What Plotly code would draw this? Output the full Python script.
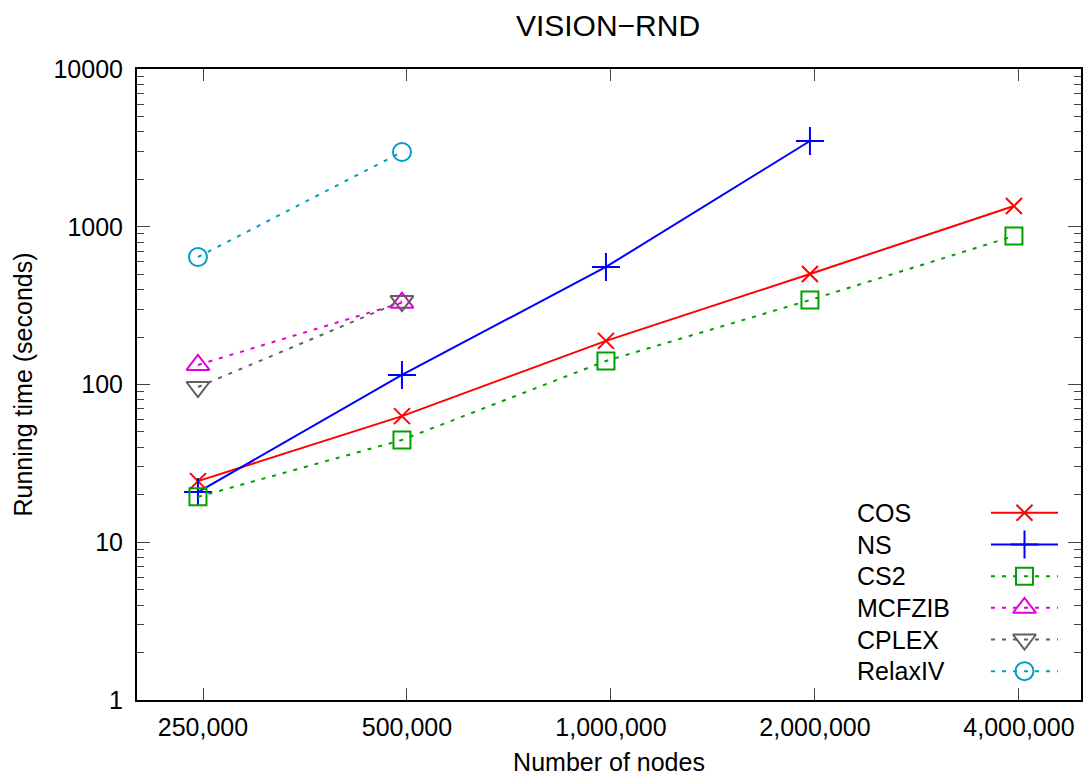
import plotly.graph_objects as go

# Data
nodes = [245760, 491520, 983040, 1966080, 3932160]
tick_vals = [250000, 500000, 1000000, 2000000, 4000000]
tick_text = ["250,000", "500,000", "1,000,000", "2,000,000", "4,000,000"]
y_tick_vals = [1, 10, 100, 1000, 10000]
y_tick_text = ["1", "10", "100", "1000", "10000"]
y_minor_vals = [m * 10 ** e for e in range(4) for m in range(2, 10)]

cos = [24.4, 63, 189, 502, 1353]
ns = [20.8, 115, 556, 3496]
cs2 = [19.4, 44.5, 141, 343, 874]
mcfzib = [133, 330]
cplex = [96.4, 338]
relaxiv = [643, 2978]

series = [
    ("COS", cos, "#ff0000", "solid", "x-thin-open", 16),
    ("NS", ns, "#0000ff", "solid", "cross-thin-open", 20),
    ("CS2", cs2, "#00a000", "4px,7px", "square-open", 17),
    ("MCFZIB", mcfzib, "#e000e0", "4px,7px", "triangle-up-open", 20),
    ("CPLEX", cplex, "#606060", "4px,7px", "triangle-down-open", 20),
    ("RelaxIV", relaxiv, "#00a0c0", "4px,7px", "circle-open", 18),
]

FONT = "Liberation Sans, Arial, Helvetica, sans-serif"
L, R, T, B = 137, 1081, 69, 700
W, H = 1083, 776

fig = go.Figure()
for name, vals, color, dash, sym, size in series:
    fig.add_trace(go.Scatter(
        x=nodes[:len(vals)], y=vals, name=name, mode="lines+markers",
        line=dict(color=color, width=2, dash=dash),
        marker=dict(symbol=sym, size=size, color=color, line=dict(color=color, width=2)),
        showlegend=False,
    ))

# gnuplot-style key: text on the left, sample on the right (drawn on a hidden 0..1 axis pair)
n = len(series)
for i, (name, vals, color, dash, sym, size) in enumerate(series):
    yk = n - 1 - i
    fig.add_trace(go.Scatter(
        x=[0, 1], y=[yk, yk], mode="lines", xaxis="x2", yaxis="y2",
        line=dict(color=color, width=2, dash=dash), showlegend=False, hoverinfo="skip",
    ))
    fig.add_trace(go.Scatter(
        x=[0.5], y=[yk], mode="markers", xaxis="x2", yaxis="y2",
        marker=dict(symbol=sym, size=size, color=color, line=dict(color=color, width=2)),
        showlegend=False, hoverinfo="skip",
    ))
    fig.add_annotation(
        xref="paper", yref="y2", x=(855 - L) / (R - L), y=yk,
        text=name, showarrow=False, xanchor="left", yanchor="middle",
        font=dict(family=FONT, size=25, color="black"),
    )

axis_common = dict(
    showline=True, linecolor="black", linewidth=2, mirror="ticks",
    ticks="inside", tickcolor="#444", tickwidth=1, showgrid=False, zeroline=False,
    tickfont=dict(family=FONT, size=25, color="black"), automargin=False,
)

fig.update_layout(
    width=W, height=H,
    margin=dict(l=L, r=W - R, t=T, b=H - B),
    paper_bgcolor="white", plot_bgcolor="white",
    title=dict(text="VISION\u2212RND", x=608 / W, xanchor="center",
               y=1 - 25 / H, yanchor="middle",
               font=dict(family=FONT, size=30, color="black")),
    xaxis=dict(type="log", range=[5.30055, 6.6936], tickvals=tick_vals, ticktext=tick_text,
               ticklen=12, ticklabelstandoff=4,
               title=dict(text="Number of nodes", font=dict(family=FONT, size=25, color="black"),
                          standoff=14),
               **axis_common),
    yaxis=dict(type="log", range=[0, 4], tickvals=y_tick_vals, ticktext=y_tick_text,
               ticklen=13, ticklabelstandoff=7,
               minor=dict(ticks="inside", ticklen=7, tickcolor="#444", tickwidth=1,
                          showgrid=False, tickvals=y_minor_vals),
               title=dict(text="Running time (seconds)", font=dict(family=FONT, size=25, color="black"),
                          standoff=14),
               **axis_common),
    xaxis2=dict(domain=[(991 - L) / (R - L), (1058 - L) / (R - L)], range=[0, 1], visible=False,
                anchor="y2"),
    yaxis2=dict(domain=[(B - 687) / (B - T), (B - 497) / (B - T)], range=[-0.5, 5.5], visible=False,
                anchor="x2"),
)

fig.write_html("out.html", config={"displayModeBar": False},
               post_script="document.body.style.margin='0';document.body.style.padding='0';")
